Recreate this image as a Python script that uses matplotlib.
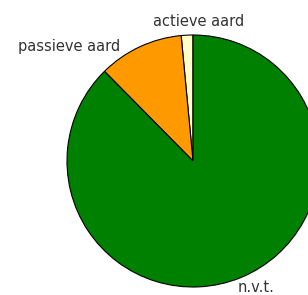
import matplotlib
matplotlib.use("Agg")
import matplotlib.pyplot as plt

# slices, counter-clockwise from the top
labels = ["actieve aard", "passieve aard", "n.v.t."]
values = [1.5, 10.9, 87.6]
colors = ["#FFFFCC", "#FF9900", "#008000"]

fig = plt.figure(figsize=(3.08, 2.95), dpi=100)
ax = fig.add_axes([0, 0, 1, 1])

ax.pie(values, colors=colors, startangle=90, counterclock=True,
       center=(193, 134), radius=126, frame=True,
       wedgeprops=dict(edgecolor="black", linewidth=0.8))
ax.set_xlim(0, 308)
ax.set_ylim(0, 295)
ax.set_aspect("equal")
ax.axis("off")

# label positions (pixels, y from bottom)
pos = [(199, 274), (69, 248), (256, 7)]
for lab, (x, y) in zip(labels, pos):
    ax.text(x, y, lab, ha="center", va="center", fontsize=10.5, color="#333333")

fig.savefig("out.png", dpi=100)
